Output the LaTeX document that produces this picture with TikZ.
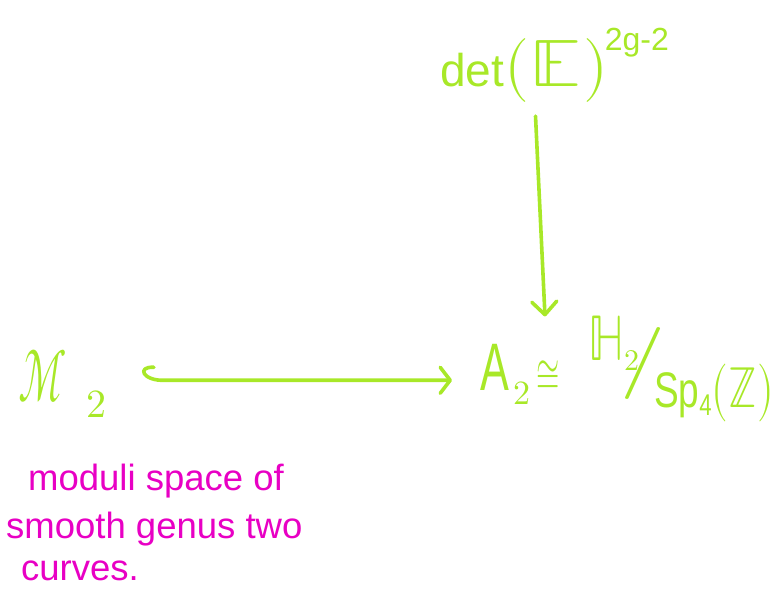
\documentclass[tikz,border=0pt]{standalone}
\usepackage{fontspec}
\usepackage{unicode-math}
\setmainfont{Liberation Sans}
\setmathfont{Latin Modern Math}
\usetikzlibrary{arrows.meta,calc}
\definecolor{lime}{RGB}{168,232,40}
\definecolor{mag}{RGB}{232,0,196}
\newcommand{\fsz}[1]{\fontsize{#1}{#1}\selectfont}
\begin{document}
\begin{tikzpicture}[x=1pt,y=-1pt,
  lbl/.style={text=lime,inner sep=0pt},
  note/.style={text=mag,inner sep=0pt,anchor=base west,font=\fontsize{36.5}{36.5}\selectfont},
  conn/.style={draw=lime,line width=3.6pt,line cap=round,line join=round},
  vtip/.style={-{Straight Barb[length=13pt,width=25pt,line cap=round,line join=round]}},
  htip/.style={-{Straight Barb[length=10pt,width=26pt,line cap=round,line join=round]}}]
\useasboundingbox (0,0) rectangle (774,589);
\node[lbl,anchor=base west] (det) at (440,86)
  {\fsz{46}det{\fsz{64}$(\scalebox{1.3}[1.05]{$\mathbb{E}$}\hspace{4pt})$}\hspace{-4pt}\raisebox{36pt}{\fsz{32}2g-2}};
\node[lbl,anchor=base west] (M) at (18,401)
  {\scalebox{0.66}[1.15]{\fsz{64}$\mathcal{M}$}\hspace{20pt}\raisebox{-16pt}{\fsz{40}$2$}};
\node[lbl,anchor=base west] (A) at (480,390)
  {\scalebox{0.72}[1.12]{\fsz{60}A}\hspace{4pt}\raisebox{-14pt}{\fsz{34}$2$}};
\node[lbl] (iso) at (548,375) {\scalebox{0.75}[1.3]{\fsz{40}$\cong$}};
\node[lbl,anchor=base west] (H) at (588,360)
  {\scalebox{0.8}[1.05]{\fsz{62}$\mathbb{H}$}\raisebox{-10pt}{\fsz{30}$2$}};
\node[lbl] (sl) at (643,363) {\scalebox{1.25}[1]{\fsz{72}$/$}};
\node[lbl,anchor=base west] (Sp) at (654,407)
  {\scalebox{0.74}[1]{{\fsz{50}Sp}\raisebox{-8pt}{\fsz{30}4}{\fsz{58}$(\mathbb{Z})$}}};
\node[note] (n1) at (28,490) {moduli space of};
\node[note] (n2) at (6,538) {smooth genus two};
\node[note] (n3) at (21,580) {curves.};
\draw[conn,vtip] ($(det.south)+(-19,14)$) -- ($(iso.north)+(-3,-44)$);
\coordinate (hj) at ($(M.east)+(58,-3)$);
\draw[conn,htip] ($(hj)+(-11,-13)$) .. controls +(-18,-1) and +(-22,1) .. (hj) -- ($(A.west |- hj)+(-28,0)$);
\end{tikzpicture}
\end{document}
